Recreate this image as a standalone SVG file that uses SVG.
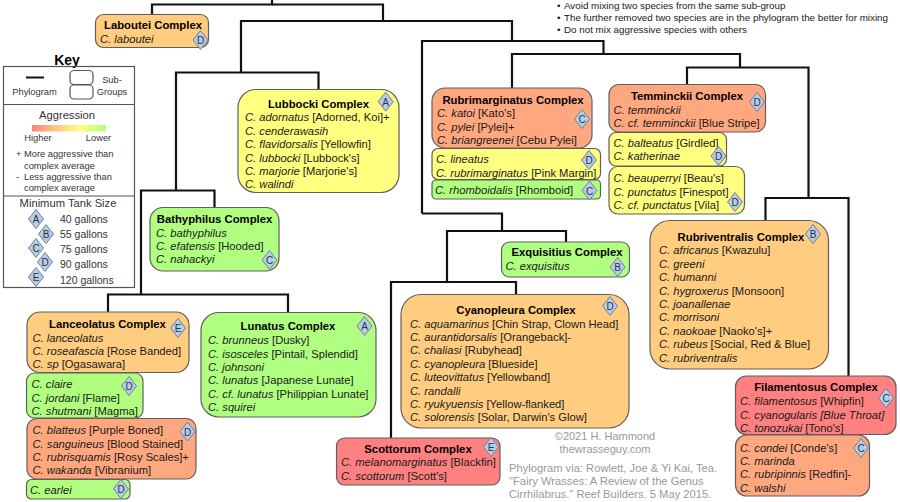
<svg xmlns="http://www.w3.org/2000/svg" width="900" height="502" viewBox="0 0 900 502">
<style>
text{font-family:"Liberation Sans",Arial,sans-serif;font-size:11.200px;fill:#1a1a1a}
.t{font-weight:bold;text-anchor:middle;fill:#000;font-size:11.300px}
.i{font-style:italic}
.n{stroke:#5f5f5f;stroke-width:1.2}
.o{fill:#FFCC80}.y{fill:#FFFF80}.g{fill:#B0FF80}.s{fill:#FFA880}.r{fill:#FF8080}
.d{fill:#B8CCE4;stroke:#6f7f96;stroke-width:1}
.l{font-size:10px;text-anchor:middle;fill:#24344f}
.k{font-size:9.300px;fill:#333}
.c{text-anchor:middle}
.gr{fill:#999}
.kb{fill:none;stroke:#555;stroke-width:1.2}
</style>
<defs>
<polygon id="dm" class="d" points="0,-9.5 7.5,0 0,9.5 -7.5,0"/>
<linearGradient id="ag"><stop offset="0" stop-color="#FF8080"/><stop offset=".35" stop-color="#FFCC80"/><stop offset=".65" stop-color="#FFFF80"/><stop offset="1" stop-color="#B0FF80"/></linearGradient>
</defs>
<g id="connectors" fill="none" stroke="#111" stroke-width="2.200">
<path d="M152 14V4.500H272V0"/>
<path d="M272 4.500H383V21"/>
<path d="M241 72V21H512V41"/>
<path d="M176 190V72.500H318.500V90"/>
<path d="M141 294V190.500H214.500V207"/>
<path d="M108 312V294.500H288V312"/>
<path d="M422 213.500V41H603.500V54"/>
<path d="M512 88V54H740V67"/>
<path d="M687 85V67.500H808.500V198"/>
<path d="M765.500 220V198H848.500V376"/>
<path d="M422 213.500H502V231"/>
<path d="M566 242V231H447V282"/>
<path d="M391 438V282H516V294.500"/>
</g>
<g id="key">
<text x="67" y="65" class="t" style="font-size:14px">Key</text>
<rect class="kb" x="3.500" y="66.500" width="131" height="221"/>
<path class="kb" d="M3.500 104.500H134.500M3.500 196H134.500"/>
<path d="M26 77.500H44" stroke="#111" stroke-width="2"/>
<text x="34.500" y="95" class="k c">Phylogram</text>
<rect class="kb" x="70" y="70.500" width="23" height="14" rx="4"/>
<rect class="kb" x="70" y="85" width="23" height="14" rx="4"/>
<text x="112" y="83" class="k c">Sub-</text>
<text x="112" y="95" class="k c">Groups</text>
<text x="67" y="119" class="c" style="font-size:11.200px;fill:#333">Aggression</text>
<rect x="32" y="125" width="74" height="6.500" fill="url(#ag)"/>
<text x="38" y="141" class="k c">Higher</text>
<text x="98.500" y="141" class="k c">Lower</text>
<text x="16" y="157" class="k">+</text><text x="24" y="157" class="k">More aggressive than</text>
<text x="24" y="169" class="k">complex average</text>
<text x="16" y="180" class="k">-</text><text x="24" y="180" class="k">Less aggressive than</text>
<text x="24" y="191" class="k">complex average</text>
<text x="68" y="207" class="c" style="font-size:11.200px;fill:#333">Minimum Tank Size</text>
<text x="60" y="223" style="font-size:10.500px;fill:#333">40 gallons</text>
<text x="60" y="238" style="font-size:10.500px;fill:#333">55 gallons</text>
<text x="60" y="253" style="font-size:10.500px;fill:#333">75 gallons</text>
<text x="60" y="268" style="font-size:10.500px;fill:#333">90 gallons</text>
<text x="60" y="284" style="font-size:10.500px;fill:#333">120 gallons</text>
<use href="#dm" x="36" y="219"/><text x="36" y="223" class="l">A</text>
<use href="#dm" x="46" y="234"/><text x="46" y="238" class="l">B</text>
<use href="#dm" x="36" y="248"/><text x="36" y="252" class="l">C</text>
<use href="#dm" x="45" y="262"/><text x="45" y="266" class="l">D</text>
<use href="#dm" x="36" y="277"/><text x="36" y="281" class="l">E</text>
</g>
<g id="notes">
<text x="557" y="9" style="font-size:9.800px">•</text><text x="564" y="9" style="font-size:9.800px">Avoid mixing two species from the same sub-group</text>
<text x="557" y="20.500" style="font-size:9.800px">•</text><text x="564" y="20.500" style="font-size:9.800px">The further removed two species are in the phylogram the better for mixing</text>
<text x="557" y="32.500" style="font-size:9.800px">•</text><text x="564" y="32.500" style="font-size:9.800px">Do not mix aggressive species with others</text>
</g>
<g id="credits">
<text x="605" y="440" class="c gr" style="font-size:11px">©2021 H. Hammond</text>
<text x="605" y="453" class="c gr" style="font-size:11px">thewrasseguy.com</text>
<text x="509" y="472" class="gr">Phylogram via: Rowlett, Joe &amp; Yi Kai, Tea.</text>
<text x="509" y="485" class="gr">"Fairy Wrasses: A Review of the Genus</text>
<text x="509" y="498" class="gr">Cirrhilabrus." Reef Builders. 5 May 2015.</text>
</g>
<g id="laboutei"><rect class="n o" x="95.500" y="14.500" width="113" height="33" rx="8"/>
<text x="153" y="29" class="t">Laboutei Complex</text>
<text x="100" y="42.500" class="i">C. laboutei</text>
<use href="#dm" x="200.500" y="40"/><text x="200.500" y="44" class="l">D</text></g>
<g id="lubbocki"><rect class="n y" x="238" y="89.500" width="161" height="103" rx="18"/>
<text x="318.500" y="108" class="t">Lubbocki Complex</text>
<text x="245" y="121"><tspan class="i">C. adornatus</tspan> [Adorned, Koi]+</text>
<text x="245" y="134.500" class="i">C. cenderawasih</text>
<text x="245" y="148"><tspan class="i">C. flavidorsalis</tspan> [Yellowfin]</text>
<text x="245" y="161.500"><tspan class="i">C. lubbocki</tspan> [Lubbock's]</text>
<text x="245" y="175"><tspan class="i">C. marjorie</tspan> [Marjorie's]</text>
<text x="245" y="188" class="i">C. walindi</text>
<use href="#dm" x="385.700" y="101.700"/><text x="385.700" y="105.700" class="l">A</text></g>
<g id="bathyphilus"><rect class="n g" x="150" y="207.500" width="129" height="63.500" rx="13"/>
<text x="214.500" y="223" class="t">Bathyphilus Complex</text>
<text x="156" y="236.500" class="i">C. bathyphilus</text>
<text x="156" y="250"><tspan class="i">C. efatensis</tspan> [Hooded]</text>
<text x="156" y="263" class="i">C. nahackyi</text>
<use href="#dm" x="269.500" y="260"/><text x="269.500" y="264" class="l">C</text></g>
<g id="lanceolatus"><rect class="n o" x="27" y="312" width="162" height="60.500" rx="13"/>
<text x="107.500" y="328" class="t">Lanceolatus Complex</text>
<text x="32.500" y="342" class="i">C. lanceolatus</text>
<text x="32.500" y="355"><tspan class="i">C. roseafascia</tspan> [Rose Banded]</text>
<text x="32.500" y="368"><tspan class="i">C. sp</tspan> [Ogasawara]</text>
<use href="#dm" x="178" y="328"/><text x="178" y="332" class="l">E</text></g>
<g id="claire"><rect class="n g" x="26.500" y="373" width="116.500" height="45" rx="8"/>
<text x="31.500" y="388" class="i">C. claire</text>
<text x="31.500" y="401.500"><tspan class="i">C. jordani</tspan> [Flame]</text>
<text x="31.500" y="415"><tspan class="i">C. shutmani</tspan> [Magma]</text>
<use href="#dm" x="129" y="386"/><text x="129" y="390" class="l">D</text></g>
<g id="blatteus"><rect class="n s" x="27" y="418.500" width="169" height="60.500" rx="10"/>
<text x="32.500" y="434"><tspan class="i">C. blatteus</tspan> [Purple Boned]</text>
<text x="32.500" y="447.500"><tspan class="i">C. sanguineus</tspan> [Blood Stained]</text>
<text x="32.500" y="461"><tspan class="i">C. rubrisquamis</tspan> [Rosy Scales]+</text>
<text x="32.500" y="474"><tspan class="i">C. wakanda</tspan> [Vibranium]</text>
<use href="#dm" x="187.500" y="431.500"/><text x="187.500" y="435.500" class="l">D</text></g>
<g id="earlei"><rect class="n g" x="26.500" y="479.500" width="103.500" height="19.500" rx="5"/>
<text x="30" y="493.500" class="i">C. earlei</text>
<use href="#dm" x="121" y="489"/><text x="121" y="493" class="l">D</text></g>
<g id="lunatus"><rect class="n g" x="201" y="312.500" width="175" height="104.500" rx="18"/>
<text x="288" y="330" class="t">Lunatus Complex</text>
<text x="208" y="344"><tspan class="i">C. brunneus</tspan> [Dusky]</text>
<text x="208" y="357.500"><tspan class="i">C. isosceles</tspan> [Pintail, Splendid]</text>
<text x="208" y="371" class="i">C. johnsoni</text>
<text x="208" y="384"><tspan class="i">C. lunatus</tspan> [Japanese Lunate]</text>
<text x="208" y="398"><tspan class="i">C. cf. lunatus</tspan> [Philippian Lunate]</text>
<text x="208" y="411" class="i">C. squirei</text>
<use href="#dm" x="364.500" y="326"/><text x="364.500" y="330" class="l">A</text></g>
<g id="scottorum"><rect class="n r" x="336.500" y="438" width="163.500" height="47" rx="8"/>
<text x="418" y="453" class="t">Scottorum Complex</text>
<text x="341" y="466"><tspan class="i">C. melanomarginatus</tspan> [Blackfin]</text>
<text x="341" y="479.500"><tspan class="i">C. scottorum</tspan> [Scott's]</text>
<use href="#dm" x="491" y="447"/><text x="491" y="451" class="l">E</text></g>
<g id="cyanopleura"><rect class="n o" x="401" y="294.500" width="228" height="133.500" rx="20"/>
<text x="516" y="314" class="t">Cyanopleura Complex</text>
<text x="410" y="327.500"><tspan class="i">C. aquamarinus</tspan> [Chin Strap, Clown Head]</text>
<text x="410" y="341"><tspan class="i">C. aurantidorsalis</tspan> [Orangeback]-</text>
<text x="410" y="354"><tspan class="i">C. chaliasi</tspan> [Rubyhead]</text>
<text x="410" y="367.500"><tspan class="i">C. cyanopleura</tspan> [Blueside]</text>
<text x="410" y="381"><tspan class="i">C. luteovittatus</tspan> [Yellowband]</text>
<text x="410" y="394.500" class="i">C. randalli</text>
<text x="410" y="408"><tspan class="i">C. ryukyuensis</tspan> [Yellow-flanked]</text>
<text x="410" y="421"><tspan class="i">C. solorensis</tspan> [Solar, Darwin's Glow]</text>
<use href="#dm" x="610" y="306"/><text x="610" y="310" class="l">D</text></g>
<g id="exquisitius"><rect class="n g" x="501.500" y="242" width="128" height="35" rx="8"/>
<text x="567" y="256" class="t">Exquisitius Complex</text>
<text x="505.500" y="270" class="i">C. exquisitus</text>
<use href="#dm" x="617.500" y="267"/><text x="617.500" y="271" class="l">B</text></g>
<g id="rubrimarginatus"><rect class="n s" x="432" y="88" width="160" height="60" rx="13"/>
<text x="513" y="103.500" class="t">Rubrimarginatus Complex</text>
<text x="437" y="117"><tspan class="i">C. katoi</tspan> [Kato's]</text>
<text x="437" y="130.500"><tspan class="i">C. pylei</tspan> [Pylei]+</text>
<text x="437" y="144"><tspan class="i">C. briangreenei</tspan> [Cebu Pylei]</text>
<use href="#dm" x="582" y="119"/><text x="582" y="123" class="l">C</text></g>
<g id="lineatus"><rect class="n y" x="432" y="148.500" width="168.500" height="31" rx="6"/>
<text x="436" y="163" class="i">C. lineatus</text>
<text x="436" y="176.500"><tspan class="i">C. rubrimarginatus</tspan> [Pink Margin]</text>
<use href="#dm" x="589" y="160"/><text x="589" y="164" class="l">D</text></g>
<g id="rhomboidalis"><rect class="n g" x="432" y="180" width="168.500" height="19" rx="4"/>
<text x="435" y="193.500"><tspan class="i">C. rhomboidalis</tspan> [Rhomboid]</text>
<use href="#dm" x="589.500" y="190.500"/><text x="589.500" y="194.500" class="l">C</text></g>
<g id="temminckii"><rect class="n s" x="609" y="84.500" width="156.500" height="47.500" rx="10"/>
<text x="687" y="100" class="t">Temminckii Complex</text>
<text x="613.500" y="113.500" class="i">C. temminckii</text>
<text x="613.500" y="127"><tspan class="i">C. cf. temminckii</tspan> [Blue Stripe]</text>
<use href="#dm" x="757" y="102"/><text x="757" y="106" class="l">D</text></g>
<g id="balteatus"><rect class="n y" x="609" y="132.500" width="117.500" height="33.500" rx="7"/>
<text x="613.500" y="146.500"><tspan class="i">C. balteatus</tspan> [Girdled]</text>
<text x="613.500" y="160" class="i">C. katherinae</text>
<use href="#dm" x="718.500" y="156"/><text x="718.500" y="160" class="l">D</text></g>
<g id="beauperryi"><rect class="n y" x="609" y="166.500" width="135.500" height="47.500" rx="9"/>
<text x="613.500" y="182"><tspan class="i">C. beauperryi</tspan> [Beau's]</text>
<text x="613.500" y="195.500"><tspan class="i">C. punctatus</tspan> [Finespot]</text>
<text x="613.500" y="209"><tspan class="i">C. cf. punctatus</tspan> [Vila]</text>
<use href="#dm" x="735" y="202"/><text x="735" y="206" class="l">D</text></g>
<g id="rubriventralis"><rect class="n o" x="650" y="220.500" width="178.500" height="148.500" rx="20"/>
<text x="741" y="241" class="t">Rubriventralis Complex</text>
<text x="659" y="254"><tspan class="i">C. africanus</tspan> [Kwazulu]</text>
<text x="659" y="267.500" class="i">C. greeni</text>
<text x="659" y="281" class="i">C. humanni</text>
<text x="659" y="294.500"><tspan class="i">C. hygroxerus</tspan> [Monsoon]</text>
<text x="659" y="308" class="i">C. joanallenae</text>
<text x="659" y="321" class="i">C. morrisoni</text>
<text x="659" y="334.500"><tspan class="i">C. naokoae</tspan> [Naoko's]+</text>
<text x="659" y="348"><tspan class="i">C. rubeus</tspan> [Social, Red &amp; Blue]</text>
<text x="659" y="361.500" class="i">C. rubriventralis</text>
<use href="#dm" x="813" y="234"/><text x="813" y="238" class="l">B</text></g>
<g id="filamentosus"><rect class="n r" x="735.500" y="376" width="160.500" height="58.500" rx="11"/>
<text x="816" y="391" class="t">Filamentosus Complex</text>
<text x="740" y="405"><tspan class="i">C. filamentosus</tspan> [Whipfin]</text>
<text x="740" y="418.500" class="i">C. cyanogularis [Blue Throat]</text>
<text x="740" y="432"><tspan class="i">C. tonozukai</tspan> [Tono's]</text>
<use href="#dm" x="886" y="398"/><text x="886" y="402" class="l">C</text></g>
<g id="condei"><rect class="n s" x="735.500" y="435" width="134" height="61" rx="11"/>
<text x="740" y="451.500"><tspan class="i">C. condei</tspan> [Conde's]</text>
<text x="740" y="465" class="i">C. marinda</text>
<text x="740" y="478"><tspan class="i">C. rubripinnis</tspan> [Redfin]-</text>
<text x="740" y="491.500" class="i">C. walshi</text>
<use href="#dm" x="861" y="448"/><text x="861" y="452" class="l">C</text></g>
</svg>
